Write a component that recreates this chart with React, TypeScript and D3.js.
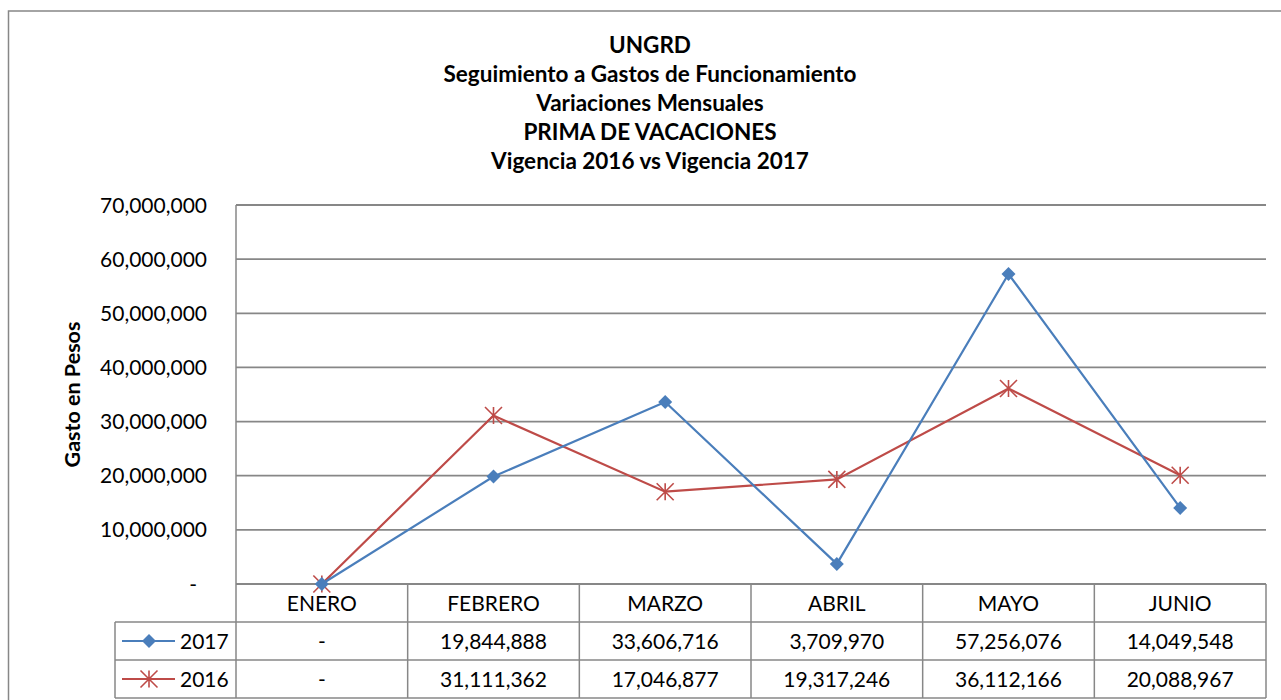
import * as d3 from 'd3';

const months = ['ENERO', 'FEBRERO', 'MARZO', 'ABRIL', 'MAYO', 'JUNIO'];
const values2017 = [0, 19844888, 33606716, 3709970, 57256076, 14049548];
const values2016 = [0, 31111362, 17046877, 19317246, 36112166, 20088967];
const yTicks = [0, 10000000, 20000000, 30000000, 40000000, 50000000, 60000000, 70000000];
const titleLines = [
  'UNGRD',
  'Seguimiento a Gastos de Funcionamiento',
  'Variaciones Mensuales',
  'PRIMA DE VACACIONES',
  'Vigencia 2016 vs Vigencia 2017',
];

const W = 1281;
const H = 700;
const FONT = 'Lato, Calibri, sans-serif';
const BLUE = '#4a7ebb';
const RED = '#be4b48';
const GRID = '#878787';

const fmt = (v: number) => (v === 0 ? '-' : d3.format(',')(v));

export default function App() {
  const plotLeft = 236;
  const plotRight = 1266;
  const plotTop = 205;
  const plotBottom = 584;
  const rowH = 38;
  const legendLeft = 115;

  const x = d3.scaleBand().domain(months).range([plotLeft, plotRight]);
  const y = d3.scaleLinear().domain([0, 70000000]).range([plotBottom, plotTop]);
  const cx = (m: string) => (x(m) ?? 0) + x.bandwidth() / 2;

  const line = d3
    .line<number>()
    .x((_, i) => cx(months[i]))
    .y((d) => y(d));

  const series = [
    { name: '2017', values: values2017, color: BLUE, marker: 'diamond' },
    { name: '2016', values: values2016, color: RED, marker: 'star' },
  ];

  // Excel-style markers: filled diamond and a "star" (X with a vertical bar)
  const marker = (kind: string, color: string, px: number, py: number, key: string) => {
    if (kind === 'diamond') {
      const s = 7;
      return (
        <path
          key={key}
          d={`M${px},${py - s}L${px + s},${py}L${px},${py + s}L${px - s},${py}Z`}
          fill={color}
        />
      );
    }
    const s = 8.5;
    return (
      <path
        key={key}
        d={`M${px - s},${py - s}L${px + s},${py + s}M${px - s},${py + s}L${px + s},${py - s}M${px},${py - s}L${px},${py + s}`}
        stroke={color}
        strokeWidth={1.6}
        fill="none"
      />
    );
  };

  const tableTop = plotBottom;
  const tableBottom = tableTop + rowH * 3;

  return (
    <svg
      width={W}
      height={H}
      style={{ position: 'absolute', left: 0, top: 0, background: '#fff' }}
      fontFamily={FONT}
    >
      {/* outer frame */}
      <rect x={8.5} y={11} width={W + 10} height={H + 10} fill="#fff" stroke={GRID} strokeWidth={1.5} />

      {/* title */}
      {titleLines.map((t, i) => (
        <text
          key={t}
          x={650}
          y={45 + i * 29}
          dy="0.36em"
          textAnchor="middle"
          fontSize={22.5}
          fontWeight="bold"
          fill="#000"
        >
          {t}
        </text>
      ))}

      {/* gridlines */}
      {yTicks.map((t) => (
        <line key={t} x1={plotLeft} x2={plotRight} y1={y(t)} y2={y(t)} stroke={GRID} strokeWidth={1.8} />
      ))}
      <line x1={plotLeft} x2={plotLeft} y1={plotTop} y2={tableBottom} stroke={GRID} strokeWidth={1.5} />

      {/* y tick labels */}
      {yTicks.map((t) => (
        <text
          key={`l${t}`}
          x={t === 0 ? 197 : 207}
          y={y(t)}
          dy="0.36em"
          textAnchor="end"
          fontSize={21}
          fill="#000"
        >
          {fmt(t)}
        </text>
      ))}

      {/* y axis title */}
      <text
        transform={`translate(72,${(plotTop + plotBottom) / 2}) rotate(-90)`}
        dy="0.36em"
        textAnchor="middle"
        fontSize={21.5}
        fontWeight="bold"
        fill="#000"
      >
        Gasto en Pesos
      </text>

      {/* data table */}
      <g stroke={GRID} strokeWidth={1.5}>
        {months.map((m) => (
          <line key={m} x1={(x(m) ?? 0) + x.bandwidth()} x2={(x(m) ?? 0) + x.bandwidth()} y1={tableTop} y2={tableBottom} />
        ))}
        <line x1={legendLeft} x2={legendLeft} y1={tableTop + rowH} y2={tableBottom} />
        <line x1={legendLeft} x2={plotRight} y1={tableTop + rowH} y2={tableTop + rowH} />
        <line x1={legendLeft} x2={plotRight} y1={tableTop + rowH * 2} y2={tableTop + rowH * 2} />
        <line x1={legendLeft} x2={plotRight} y1={tableBottom} y2={tableBottom} />
      </g>
      {months.map((m) => (
        <text key={`c${m}`} x={cx(m)} y={tableTop + rowH / 2} dy="0.36em" textAnchor="middle" fontSize={21} fill="#000">
          {m}
        </text>
      ))}
      {series.map((s, r) => {
        const ry = tableTop + rowH * (r + 1) + rowH / 2;
        return (
          <g key={`row${s.name}`}>
            <line x1={122} x2={175} y1={ry} y2={ry} stroke={s.color} strokeWidth={2.2} />
            {marker(s.marker, s.color, 149, ry, `lm${s.name}`)}
            <text x={180} y={ry} dy="0.36em" fontSize={21} fill="#000">
              {s.name}
            </text>
            {s.values.map((v, i) => (
              <text key={i} x={cx(months[i])} y={ry} dy="0.36em" textAnchor="middle" fontSize={21} fill="#000">
                {fmt(v)}
              </text>
            ))}
          </g>
        );
      })}

      {/* series lines, 2016 under 2017 */}
      {[...series].reverse().map((s) => (
        <g key={`s${s.name}`}>
          <path d={line(s.values) ?? ''} fill="none" stroke={s.color} strokeWidth={2.2} />
          {s.values.map((v, i) => marker(s.marker, s.color, cx(months[i]), y(v), `m${s.name}${i}`))}
        </g>
      ))}
    </svg>
  );
}
